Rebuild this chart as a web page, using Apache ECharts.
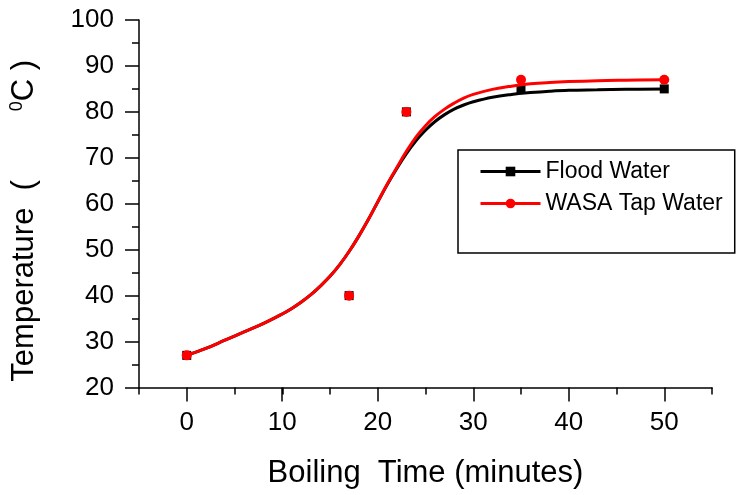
<!DOCTYPE html>
<html>
<head>
<meta charset="utf-8">
<script src="https://cdn.jsdelivr.net/npm/echarts@6/dist/echarts.min.js"></script>
<style>
  html, body { margin: 0; padding: 0; background: #fff; }
  #main { width: 746px; height: 495px; }
</style>
</head>
<body>
<div id="main"></div>
<script>
// measured points (boiling time in minutes, temperature in degC)
var timePoints = [0, 17, 23, 35, 50];
var floodPoints = [27, 40, 80, 85, 85];
var wasaPoints = [27, 40, 80, 87, 87];

// fitted curves
var curveTime = [0, 2, 4, 6, 8, 10, 11, 12, 13, 14, 15, 16, 17, 18, 19, 20, 21, 22, 23, 24, 25, 26, 27, 28, 29, 30, 32, 34, 36, 38, 40, 43, 46, 50];
var floodCurve = [27.0, 28.5, 30.3, 32.1, 33.9, 36.0, 37.2, 38.6, 40.2, 42.1, 44.2, 46.7, 49.6, 52.9, 56.5, 60.4, 64.2, 67.7, 70.9, 73.7, 76.0, 77.9, 79.4, 80.6, 81.5, 82.2, 83.2, 83.8, 84.2, 84.5, 84.7, 84.8, 84.9, 85.0];
var wasaCurve = [27.0, 28.5, 30.3, 32.1, 33.9, 36.0, 37.2, 38.6, 40.2, 42.1, 44.2, 46.7, 49.6, 52.9, 56.5, 60.4, 64.3, 67.9, 71.4, 74.5, 77.0, 79.0, 80.6, 81.9, 83.0, 83.8, 84.9, 85.6, 86.1, 86.4, 86.6, 86.8, 86.9, 87.0];

var xTicks = [0, 10, 20, 30, 40, 50];

function pairs(xs, ys) {
    return xs.map(function (x, i) { return [x, ys[i]]; });
}

var font = 'Liberation Sans, Arial, sans-serif';
var chart = echarts.init(document.getElementById('main'));

chart.setOption({
    animation: false,
    backgroundColor: '#fff',
    textStyle: { fontFamily: font, color: '#000' },
    grid: [
        { left: 139, right: 34, top: 20, bottom: 107.5 },
        // second grid only carries the major ticks and labels of the time axis
        { left: 186.7, right: 81.7, top: 20, bottom: 107.5 }
    ],
    legend: {
        data: ['Flood Water', 'WASA Tap Water'],
        orient: 'vertical',
        left: 458,
        top: 150,
        padding: [10, 12, 38, 21],
        itemWidth: 60,
        itemHeight: 12,
        itemGap: 9,
        borderColor: '#000',
        borderWidth: 1.5,
        backgroundColor: '#fff',
        lineStyle: { width: 3 },
        textStyle: { fontSize: 23, fontFamily: font, color: '#000', lineHeight: 23 }
    },
    xAxis: [{
        type: 'value',
        gridIndex: 0,
        min: -5,
        max: 55,
        interval: 5,
        name: 'Boiling  Time (minutes)',
        nameLocation: 'middle',
        nameGap: 70,
        nameTextStyle: { fontSize: 31, fontFamily: font, color: '#000' },
        axisLine: { onZero: false, lineStyle: { color: '#000', width: 1.5 } },
        axisTick: { length: 7, lineStyle: { color: '#000', width: 1.5 } },
        axisLabel: { show: false },
        splitLine: { show: false }
    }, {
        type: 'value',
        gridIndex: 1,
        min: xTicks[0],
        max: xTicks[xTicks.length - 1],
        interval: 10,
        axisLine: { show: false, onZero: false },
        axisTick: { length: 14, lineStyle: { color: '#000', width: 1.5 } },
        axisLabel: { fontSize: 26, fontFamily: font, color: '#000', margin: 22 },
        splitLine: { show: false }
    }],
    yAxis: [{
        type: 'value',
        gridIndex: 0,
        min: 20,
        max: 100,
        interval: 10,
        name: '{t|Temperature  (        }{sup|0}{t|C )}',
        nameLocation: 'middle',
        nameRotate: 90,
        nameGap: 99,
        nameTextStyle: {
            fontSize: 31,
            fontFamily: font,
            color: '#000',
            padding: [0, 34, 0, 0],
            rich: {
                t: { fontSize: 31, fontFamily: font, color: '#000' },
                sup: { fontSize: 18, fontFamily: font, color: '#000', padding: [0, 0, 14, 0] }
            }
        },
        axisLine: { onZero: false, lineStyle: { color: '#000', width: 1.5 } },
        axisTick: { length: 14, lineStyle: { color: '#000', width: 1.5 } },
        minorTick: { show: true, splitNumber: 2, length: 7, lineStyle: { color: '#000', width: 1.5 } },
        axisLabel: { fontSize: 26, fontFamily: font, color: '#000', margin: 25 },
        splitLine: { show: false }
    }, {
        type: 'value',
        gridIndex: 1,
        min: 20,
        max: 100,
        show: false
    }],
    series: [{
        name: 'Flood Water',
        type: 'line',
        data: pairs(curveTime, floodCurve),
        smooth: 0.4,
        showSymbol: false,
        symbol: 'rect',
        symbolSize: 9,
        lineStyle: { color: '#000', width: 3 },
        itemStyle: { color: '#000' },
        z: 2
    }, {
        name: 'Flood Water points',
        type: 'scatter',
        data: pairs(timePoints, floodPoints),
        symbol: 'rect',
        symbolSize: 9,
        itemStyle: { color: '#000', opacity: 1 },
        z: 3
    }, {
        name: 'WASA Tap Water',
        type: 'line',
        data: pairs(curveTime, wasaCurve),
        smooth: 0.4,
        showSymbol: false,
        symbol: 'circle',
        symbolSize: 10,
        lineStyle: { color: '#ff0000', width: 3 },
        itemStyle: { color: '#ff0000' },
        z: 4
    }, {
        name: 'WASA Tap Water points',
        type: 'scatter',
        data: pairs(timePoints, wasaPoints),
        symbol: 'circle',
        symbolSize: 10,
        itemStyle: { color: '#ff0000', opacity: 1 },
        z: 5
    }]
});
</script>
</body>
</html>
